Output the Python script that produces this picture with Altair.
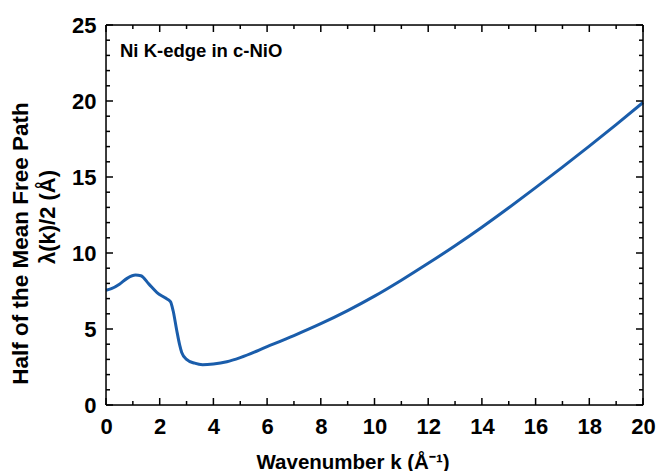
import altair as alt
import pandas as pd

# Curve data
k_values = [0, 0.2, 0.5, 0.8, 1.1, 1.3, 1.6, 1.9, 2.2, 2.4, 2.5, 2.63, 2.75, 2.82,
            3.0, 3.3, 3.6, 4.0, 4.5, 5, 6, 7, 8, 9, 10, 11, 12, 13, 14, 15, 16,
            17, 18, 19, 20]
half_mfp = [7.55, 7.65, 7.95, 8.35, 8.55, 8.5, 7.95, 7.4, 7.05, 6.8, 6.2, 4.95,
            3.9, 3.45, 3.0, 2.75, 2.65, 2.7, 2.85, 3.12, 3.84, 4.57, 5.35, 6.21,
            7.16, 8.21, 9.32, 10.48, 11.7, 12.98, 14.3, 15.65, 17.03, 18.45, 19.9]

x_major = [0, 2, 4, 6, 8, 10, 12, 14, 16, 18, 20]
x_minor = [1, 3, 5, 7, 9, 11, 13, 15, 17, 19]
y_major = [0, 5, 10, 15, 20, 25]
y_minor = [v for v in range(0, 26) if v % 5 != 0]

W, H = 537, 380
X_MAX, Y_MAX = 20, 25
FONT = "Liberation Sans"
LINE_COLOR = "#1a5dab"

xs = alt.Scale(domain=[0, X_MAX], nice=False, zero=False)
ys = alt.Scale(domain=[0, Y_MAX], nice=False, zero=False)

common = dict(labelFont=FONT, labelFontWeight="bold", labelFontSize=22, labelColor="black",
              titleFont=FONT, titleFontWeight="bold", titleColor="black",
              labelFlush=False, labelOverlap=False,
              grid=False, ticks=False, tickSize=0, domain=False)

x_axis = alt.Axis(values=x_major, title="Wavenumber k (Å⁻¹)", orient="bottom",
                  titleAlign="left", titleX=150, titleY=63,
                  titleBaseline="alphabetic", titleFontSize=20.5,
                  labelPadding=11, **common)
y_axis = alt.Axis(values=y_major, title="Half of the Mean Free Path", orient="left",
                  titleAngle=270, titleAlign="center", titleBaseline="middle",
                  titleX=-86, titleY=218, titleFontSize=22.5,
                  labelPadding=10, **common)

df = pd.DataFrame({"k": k_values, "lam": half_mfp})

line = alt.Chart(df).mark_line(color=LINE_COLOR, strokeWidth=3, interpolate="monotone").encode(
    x=alt.X("k:Q", scale=xs, axis=x_axis),
    y=alt.Y("lam:Q", scale=ys, axis=y_axis),
)

# inward tick marks (lengths in pixels converted to data units)
ux = X_MAX / W   # data units per pixel along x
uy = Y_MAX / H   # data units per pixel along y

vt_rows = []
for vals, px in ((x_major, 7), (x_minor, 4)):
    for v in vals:
        vt_rows.append({"k": v, "lam": 0, "lam2": px * uy})
        vt_rows.append({"k": v, "lam": Y_MAX, "lam2": Y_MAX - px * uy})
ht_rows = []
for vals, px in ((y_major, 7), (y_minor, 4)):
    for v in vals:
        ht_rows.append({"lam": v, "k": 0, "k2": px * ux})
        ht_rows.append({"lam": v, "k": X_MAX, "k2": X_MAX - px * ux})

vticks = alt.Chart(pd.DataFrame(vt_rows)).mark_rule(color="black", strokeWidth=1.5).encode(
    x=alt.X("k:Q", scale=xs, axis=x_axis),
    y=alt.Y("lam:Q", scale=ys, axis=y_axis),
    y2="lam2:Q",
)
hticks = alt.Chart(pd.DataFrame(ht_rows)).mark_rule(color="black", strokeWidth=1.5).encode(
    x=alt.X("k:Q", scale=xs, axis=x_axis),
    x2="k2:Q",
    y=alt.Y("lam:Q", scale=ys, axis=y_axis),
)

frame_df = pd.DataFrame({"f": [0]})
frame = [
    alt.Chart(frame_df).mark_rule(color="black", strokeWidth=1.5).encode(
        x=alt.value(0), x2=alt.value(W), y=alt.value(0)),
    alt.Chart(frame_df).mark_rule(color="black", strokeWidth=1.5).encode(
        x=alt.value(0), x2=alt.value(W), y=alt.value(H)),
    alt.Chart(frame_df).mark_rule(color="black", strokeWidth=1.5).encode(
        x=alt.value(0), y=alt.value(0), y2=alt.value(H)),
    alt.Chart(frame_df).mark_rule(color="black", strokeWidth=1.5).encode(
        x=alt.value(W), y=alt.value(0), y2=alt.value(H)),
]

annot = alt.Chart(pd.DataFrame({"t": ["Ni K-edge in c-NiO"]})).mark_text(
    align="left", baseline="alphabetic", font=FONT, fontWeight="bold", fontSize=18.5,
    color="black").encode(text="t:N", x=alt.value(14), y=alt.value(32))

ytitle2 = alt.Chart(pd.DataFrame({"t": ["λ(k)/2 (Å)"]})).mark_text(
    align="center", baseline="middle", angle=270, font=FONT, fontWeight="bold",
    fontSize=22, color="black").encode(text="t:N", x=alt.value(-58), y=alt.value(192))

chart = alt.layer(line, vticks, hticks, *frame, annot, ytitle2).properties(
    width=W, height=H,
    autosize=alt.AutoSizeParams(type="none"),
    padding={"left": 106, "top": 25, "right": 15, "bottom": 66},
).configure(background="white")

chart.save("out.html", embed_options={"renderer": "svg", "actions": False})
